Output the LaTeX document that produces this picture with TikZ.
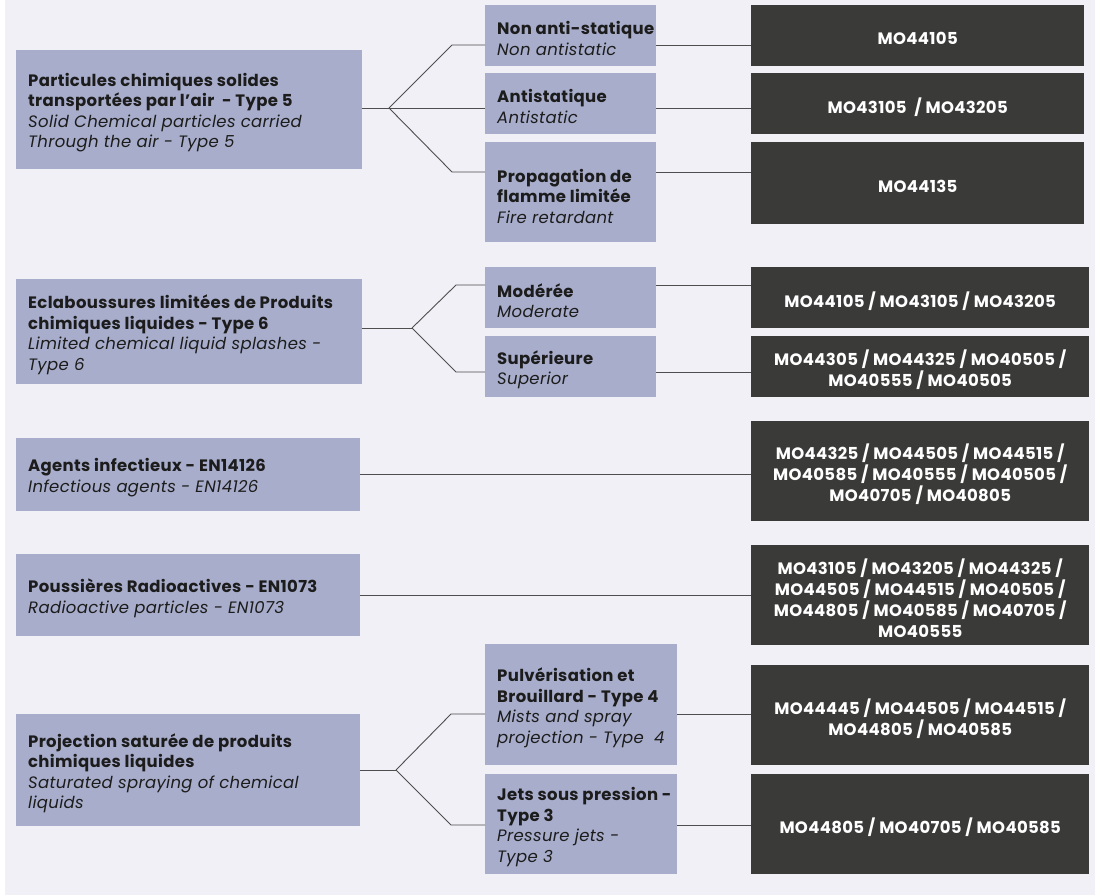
\documentclass[tikz,border=0pt]{standalone}
\usepackage{fontspec}
\setmainfont{Poppins}[LetterSpace=2]
\definecolor{bgc}{HTML}{F0F0F6}
\definecolor{boxc}{HTML}{A8ADCB}
\definecolor{darkc}{HTML}{3A3A38}
\definecolor{txtc}{HTML}{1C1C1C}
\definecolor{linec}{HTML}{4E4E4E}
\begin{document}
\begin{tikzpicture}[x=1pt,y=-1pt,
  lbox/.style={fill=boxc, draw=none, anchor=north west, inner sep=0pt},
  dbox/.style={fill=darkc, draw=none, anchor=north west, inner sep=0pt},
  dtext/.style={text=white, inner sep=0pt, align=center, yshift=-3pt,
    font=\bfseries\fontsize{16.5}{21}\selectfont},
  ltext/.style={anchor=west, align=left, text=txtc, inner sep=0pt, yshift=-3pt,
    font=\fontsize{16.5}{20.5}\selectfont},
  conn/.style={draw=linec, line width=0.9pt}]
\useasboundingbox (0,0) rectangle (1095,895);
\fill[white] (0,0) rectangle (1095,895);
\fill[bgc] (5,0) rectangle (1095,895);

% ---------- Row A ----------
\node[lbox, minimum width=346pt, minimum height=119pt] (A) at (16,50) {};
\node[ltext] (At) at ([xshift=12pt]A.west) {\textbf{Particules chimiques solides}\\\textbf{transportées par l’air\ \ - Type 5}\\\textit{Solid Chemical particles carried}\\\textit{Through the air - Type 5}};
\node[lbox, minimum width=171pt, minimum height=61pt] (S1) at (485,5) {};
\node[ltext] (S1t) at ([xshift=12pt]S1.west) {\textbf{Non anti-statique}\\\textit{Non antistatic}};
\node[lbox, minimum width=171pt, minimum height=61pt] (S2) at (485,73) {};
\node[ltext] (S2t) at ([xshift=12pt]S2.west) {\textbf{Antistatique}\\\textit{Antistatic}};
\node[lbox, minimum width=171pt, minimum height=100pt] (S3) at (485,142) {};
\node[ltext] (S3t) at ([xshift=12pt,yshift=-1pt]S3.west) {\textbf{Propagation de}\\\textbf{flamme limitée}\\\textit{Fire retardant}};
\node[dbox, minimum width=333pt, minimum height=61pt] (D1) at (751,5) {};
\node[dtext] (D1t) at (D1.center) {MO44105};
\node[dbox, minimum width=333pt, minimum height=61pt] (D2) at (751,73) {};
\node[dtext] (D2t) at (D2.center) {MO43105\ \ / MO43205};
\node[dbox, minimum width=333pt, minimum height=82pt] (D3) at (751,142) {};
\node[dtext] (D3t) at (D3.center) {MO44135};
\coordinate (jA) at (389,108);
\coordinate (kA1) at (452,45);
\coordinate (kA3) at (452,172);
\draw[conn] (A.east |- jA) -- (jA);
\draw[conn] (jA) -- (kA1) -- (kA1 -| S1.west);
\draw[conn] (jA) -- (jA -| S2.west);
\draw[conn] (jA) -- (kA3) -- (kA3 -| S3.west);
\draw[conn] (kA1 -| S1.east) -- (kA1 -| D1.west);
\draw[conn] (jA -| S2.east) -- (jA -| D2.west);
\draw[conn] (kA3 -| S3.east) -- (kA3 -| D3.west);

% ---------- Row B ----------
\node[lbox, minimum width=346pt, minimum height=105pt] (B) at (16,279) {};
\node[ltext] (Bt) at ([xshift=12pt]B.west) {\textbf{Eclaboussures limitées de Produits}\\\textbf{chimiques liquides - Type 6}\\\textit{Limited chemical liquid splashes -}\\\textit{Type 6}};
\node[lbox, minimum width=171pt, minimum height=61pt] (S4) at (485,267) {};
\node[ltext] (S4t) at ([xshift=12pt]S4.west) {\textbf{Modérée}\\\textit{Moderate}};
\node[lbox, minimum width=171pt, minimum height=61pt] (S5) at (485,336) {};
\node[ltext] (S5t) at ([xshift=12pt]S5.west) {\textbf{Supérieure}\\\textit{Superior}};
\node[dbox, minimum width=338pt, minimum height=61pt] (D4) at (751,267) {};
\node[dtext] (D4t) at (D4.center) {MO44105 / MO43105 / MO43205};
\node[dbox, minimum width=338pt, minimum height=61pt] (D5) at (751,336) {};
\node[dtext] (D5t) at (D5.center) {MO44305 / MO44325 / MO40505 /\\MO40555 / MO40505};
\coordinate (jB) at (412,328);
\coordinate (kB1) at (456,285);
\coordinate (kB2) at (456,372);
\draw[conn] (B.east |- jB) -- (jB);
\draw[conn] (jB) -- (kB1) -- (kB1 -| S4.west);
\draw[conn] (jB) -- (kB2) -- (kB2 -| S5.west);
\draw[conn] (kB1 -| S4.east) -- (kB1 -| D4.west);
\draw[conn] (kB2 -| S5.east) -- (kB2 -| D5.west);

% ---------- Row C ----------
\node[lbox, minimum width=344pt, minimum height=73pt] (C) at (16,438) {};
\node[ltext] (Ct) at ([xshift=12pt]C.west) {\textbf{Agents infectieux - EN14126}\\\textit{Infectious agents - EN14126}};
\node[dbox, minimum width=338pt, minimum height=100pt] (D6) at (751,421) {};
\node[dtext] (D6t) at (D6.center) {MO44325 / MO44505 / MO44515 /\\MO40585 / MO40555 / MO40505 /\\MO40705 / MO40805};
\coordinate (jC) at (555,474);
\draw[conn] (C.east |- jC) -- (jC -| D6.west);

% ---------- Row D ----------
\node[lbox, minimum width=344pt, minimum height=82pt] (Dd) at (16,554) {};
\node[ltext] (Ddt) at ([xshift=12pt]Dd.west) {\textbf{Poussières Radioactives - EN1073}\\\textit{Radioactive particles - EN1073}};
\node[dbox, minimum width=338pt, minimum height=100pt] (D7) at (751,545) {};
\node[dtext] (D7t) at (D7.center) {MO43105 / MO43205 / MO44325 /\\MO44505 / MO44515 / MO40505 /\\MO44805 / MO40585 / MO40705 /\\MO40555};
\coordinate (jD) at (555,595);
\draw[conn] (Dd.east |- jD) -- (jD -| D7.west);

% ---------- Row E ----------
\node[lbox, minimum width=344pt, minimum height=112pt] (E) at (16,714) {};
\node[ltext] (Et) at ([xshift=12pt]E.west) {\textbf{Projection saturée de produits}\\\textbf{chimiques liquides}\\\textit{Saturated spraying of chemical}\\\textit{liquids}};
\node[lbox, minimum width=192pt, minimum height=121pt] (S6) at (485,644) {};
\node[ltext] (S6t) at ([xshift=12pt]S6.west) {\textbf{Pulvérisation et}\\\textbf{Brouillard - Type 4}\\\textit{Mists and spray}\\\textit{projection - Type\ \ 4}};
\node[lbox, minimum width=192pt, minimum height=100pt] (S7) at (485,774) {};
\node[ltext] (S7t) at ([xshift=12pt]S7.west) {\textbf{Jets sous pression -}\\\textbf{Type 3}\\\textit{Pressure jets -}\\\textit{Type 3}};
\node[dbox, minimum width=338pt, minimum height=100pt] (D8) at (751,665) {};
\node[dtext] (D8t) at (D8.center) {MO44445 / MO44505 / MO44515 /\\MO44805 / MO40585};
\node[dbox, minimum width=338pt, minimum height=100pt] (D9) at (751,774) {};
\node[dtext] (D9t) at (D9.center) {MO44805 / MO40705 / MO40585};
\coordinate (jE) at (396,770);
\coordinate (kE1) at (451,714);
\coordinate (kE2) at (451,825);
\draw[conn] (E.east |- jE) -- (jE);
\draw[conn] (jE) -- (kE1) -- (kE1 -| S6.west);
\draw[conn] (jE) -- (kE2) -- (kE2 -| S7.west);
\draw[conn] (kE1 -| S6.east) -- (kE1 -| D8.west);
\draw[conn] (kE2 -| S7.east) -- (kE2 -| D9.west);
\end{tikzpicture}
\end{document}
